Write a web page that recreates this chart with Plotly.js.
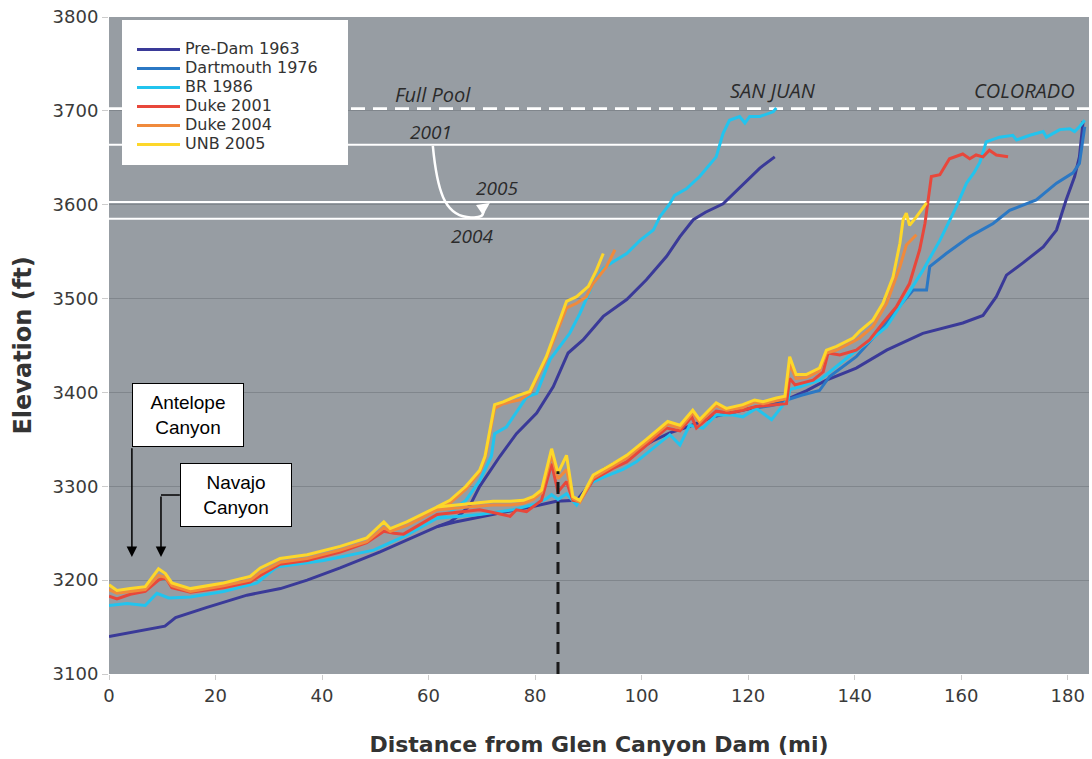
<!DOCTYPE html>
<html><head><meta charset="utf-8">
<script src="https://cdn.plot.ly/plotly-3.0.1.min.js"></script>
<style>html,body{margin:0;padding:0;background:#fff}#chart{width:1092px;height:759px}</style>
</head><body><div id="chart"></div>
<script>
// ---------- DATA (miles from Glen Canyon Dam, elevation ft) ----------
const seriesNames = ['Pre-Dam 1963','Dartmouth 1976','BR 1986','Duke 2001','Duke 2004','UNB 2005'];
const seriesColors = ['#3a3a98','#2b78c4','#22c4ee','#e8473b','#f08a3c','#fdd72a'];

// Pre-Dam 1963
const predamColX = [0,5,10.5,12.5,15,18.4,25.9,32.2,37.2,43.4,50.9,55.9,61.6,65,69.6,75,80,84,87.8,90,92.8,96,99,102,105.3,109,113.4,118,122,126,127.8,131,134.7,140.3,146,152.8,160.3,164.1,166.6,168.5,171.6,175.4,177.9,179.7,181.3,182.2,182.9];
const predamColY = [3140,3145,3151,3160,3165,3171,3184,3191,3200,3213,3230,3243,3257,3262,3267,3273,3279,3284,3285,3300,3318,3328,3338,3348,3357,3364,3374,3380,3385,3390,3394,3402,3413,3426,3445,3463,3474,3482,3502,3525,3538,3555,3573,3605,3630,3651,3689];
const predamSjX = [61.6,64,66,67.8,69.6,73.4,76.5,80.3,83.4,86.2,89,92.8,97.2,100.9,104.7,107.2,109.7,112,115.3,119.7,122.2,125];
const predamSjY = [3257,3262,3270,3280,3300,3332,3356,3378,3406,3442,3456,3481,3499,3520,3545,3566,3584,3592,3601,3625,3639,3651];

// Dartmouth 1976
const dartColX = [121,124.4,126.6,127.8,130,133.4,135.3,140.3,144.7,147.8,151,153.5,154.1,157.2,161.6,166,169.1,174.1,177.9,181,182.2,183.2];
const dartColY = [3383,3386,3389,3393,3397,3402,3417,3438,3466,3488,3509,3509,3534,3548,3566,3580,3594,3605,3623,3634,3644,3683];

// BR 1986
const br86ColX = [0,3.4,6.8,9,11.2,15.3,21.5,27.8,31.5,34,40.3,49.7,51.6,55.9,61.6,65,69.6,75.9,80,82.2,83.1,84.3,85.9,87.8,90.3,93,96.5,99,103.4,105.3,107.2,109,111.5,114,117.2,119,121.5,124.4,126.6,127.5,127.8,129.7,133.4,139.7,142.2,146,149.7,152.8,156,159.1,161,162.5,163.5,164.7,167.2,169.7,170.4,172.9,175.4,176,178.5,180.4,181.3,182.2,183.2];
const br86ColY = [3173,3175,3173,3186,3181,3182,3188,3197,3214,3216,3221,3232,3237,3248,3266,3268,3270,3275,3281,3287,3291,3286,3292,3280,3303,3310,3318,3326,3346,3355,3344,3365,3362,3376,3376,3374,3383,3371,3387,3392,3403,3406,3413,3442,3452,3470,3502,3530,3562,3598,3623,3635,3645,3667,3672,3674,3669,3674,3678,3672,3680,3681,3678,3683,3690];
const br86SjX = [61.6,64,67,69.6,71.8,72.4,74.6,78.4,80.3,82.8,86.5,88.4,90.9,92.8,94.6,97.2,99.7,102.2,103.4,105.3,106.2,108.4,110.9,114,115.3,116.5,118.4,119.4,120.3,122.2,124.7,125.3];
const br86SjY = [3266,3272,3285,3306,3332,3356,3363,3395,3399,3435,3463,3484,3516,3532,3539,3548,3562,3573,3587,3601,3610,3617,3630,3651,3676,3690,3694,3687,3694,3694,3699,3703];

// Duke 2001
const duke01ColX = [0,1.5,4,6.8,9.3,10.6,11.8,15.3,21.5,26.5,28.4,32.1,37.2,43.4,48.4,51.6,53.5,55.3,61.6,65,69.6,73,75.3,76.5,78.4,81.2,83.1,84.3,85.9,87.1,88.4,90.9,94.6,97.2,100.9,104.7,107.2,109.4,110.3,114,116.5,119,121.5,125.3,127.2,127.8,128.8,132.2,134.1,135,137.2,140.3,142.8,145.3,147.8,150.3,152.2,153.2,153.8,154.4,156,157.8,160.3,161.6,162.8,164.1,165.3,166.6,168.8];
const duke01ColY = [3183,3180,3185,3188,3200,3203,3192,3187,3192,3198,3205,3217,3221,3230,3240,3252,3250,3249,3270,3272,3275,3271,3268,3275,3273,3285,3324,3294,3305,3285,3284,3307,3319,3326,3344,3362,3359,3374,3362,3380,3378,3381,3385,3387,3388,3415,3408,3413,3422,3442,3440,3445,3456,3474,3491,3516,3552,3580,3605,3630,3632,3649,3654,3649,3653,3651,3658,3653,3651];

// Duke 2004
const duke04ColX = [0,1.5,4,6.8,9.3,10.6,11.8,15.3,21.5,26.5,28.4,32.1,37.2,43.4,48.4,51.6,52.8,55.9,61.6,65,69.6,72.1,75.3,77.8,79.6,81.2,83.1,84.3,85.9,87.1,88.4,90.9,94.6,97.2,100.9,104.9,107.2,109.6,110.9,114,115.9,119,121.2,122.8,125.3,126.9,127.8,129,130.9,133.4,134.7,136.6,139.7,140.9,143.4,146,148.5,149.7,151.6];
const duke04ColY = [3190,3186,3188,3190,3205,3203,3194,3188,3194,3200,3208,3219,3223,3232,3241,3256,3252,3258,3275,3277,3279,3280,3280,3282,3286,3293,3333,3308,3318,3287,3283,3309,3321,3330,3347,3366,3362,3378,3368,3386,3381,3384,3390,3388,3391,3393,3430,3415,3416,3423,3442,3445,3454,3458,3470,3495,3534,3557,3568];
const duke04SjX = [61.6,64,67,69.6,70.6,72.4,74,77.1,79,82.1,85.9,87.8,89.6,90.9,93.4,95];
const duke04SjY = [3275,3282,3297,3315,3330,3383,3388,3392,3399,3436,3490,3495,3502,3516,3534,3552];

// UNB 2005
const unb05ColX = [0,1.5,4,6.8,9.3,10.6,11.8,15.3,21.5,26.5,28.4,32.1,37.2,43.4,48.4,51.6,52.8,55.9,61.6,65,69.6,72.1,75.3,77.8,79.6,81.2,83.1,84.3,85.9,87.1,88.4,90.9,94.6,97.2,100.9,104.9,107.2,109.6,110.9,114,115.9,119,121.2,122.8,125.3,126.9,127.8,129,130.9,133.4,134.7,136.6,139.7,140.9,143.4,145.3,147.2,148.5,149.1,149.7,150.3,151.6,153.5];
const unb05ColY = [3195,3189,3191,3193,3212,3207,3197,3191,3197,3204,3213,3223,3227,3236,3245,3262,3255,3262,3278,3280,3282,3284,3284,3285,3289,3296,3340,3314,3333,3289,3285,3312,3324,3333,3350,3369,3365,3381,3371,3389,3383,3387,3392,3390,3394,3396,3438,3419,3419,3426,3445,3449,3458,3465,3477,3495,3523,3559,3584,3591,3578,3587,3602];
const unb05SjX = [61.6,64,67,69.6,70.6,72.4,74,76.5,79,82.1,85.9,87.8,90,91.5,92.8];
const unb05SjY = [3278,3285,3300,3317,3332,3387,3390,3396,3401,3438,3497,3502,3513,3530,3548];

// Reservoir levels (ft)
const fullPool = 3702;
const poolLevels = {'2001': 3664, '2005': 3603, '2004': 3585};
const sanJuanConfluenceMile = 84.3;
const sanJuanConfluenceTop = 3316;

const xTicks = [0,20,40,60,80,100,120,140,160,180];
const yTicks = [3100,3200,3300,3400,3500,3600,3700,3800];

// ---------- TRACES ----------
const colSets = [[predamColX,predamColY],[dartColX,dartColY],[br86ColX,br86ColY],[duke01ColX,duke01ColY],[duke04ColX,duke04ColY],[unb05ColX,unb05ColY]];
const sjSets = [[predamSjX,predamSjY],null,[br86SjX,br86SjY],null,[duke04SjX,duke04SjY],[unb05SjX,unb05SjY]];
const traces = [];
seriesNames.forEach((n,i)=>{
  traces.push({type:'scatter',mode:'lines',x:colSets[i][0],y:colSets[i][1],
    name:'<span style="font-size:16px">'+n+'</span>',legendgroup:n,
    line:{color:seriesColors[i],width:3},hoverinfo:'skip'});
  if(sjSets[i]) traces.push({type:'scatter',mode:'lines',x:sjSets[i][0],y:sjSets[i][1],
    name:n,legendgroup:n,showlegend:false,line:{color:seriesColors[i],width:3},hoverinfo:'skip'});
});

const txtFont = {family:'Open Sans, Noto Sans, sans-serif', size:20, color:'#2b2b2b'};
const yrFont = {family:'Open Sans, Noto Sans, sans-serif', size:19, color:'#2b2b2b'};
const boxFont = {family:'Liberation Sans, Arial, sans-serif', size:19, color:'#000'};

const shapes = [
  // legend white box
  {type:'rect',xref:'paper',yref:'paper',x0:(122-109)/980,x1:(348-109)/980,y0:1-(165-17)/657,y1:1-(20-17)/657,fillcolor:'#fff',line:{width:0},layer:'above'},
  {type:'line',xref:'paper',yref:'y',x0:0,x1:1,y0:fullPool,y1:fullPool,line:{color:'#fff',width:3.5,dash:'14px,8px'},layer:'between'},
  {type:'line',xref:'paper',yref:'y',x0:0,x1:1,y0:poolLevels['2001'],y1:poolLevels['2001'],line:{color:'#fff',width:2},layer:'between'},
  {type:'line',xref:'paper',yref:'y',x0:0,x1:1,y0:poolLevels['2005'],y1:poolLevels['2005'],line:{color:'#fff',width:2},layer:'between'},
  {type:'line',xref:'paper',yref:'y',x0:0,x1:1,y0:poolLevels['2004'],y1:poolLevels['2004'],line:{color:'#fff',width:2},layer:'between'},
  {type:'line',xref:'x',yref:'y',x0:sanJuanConfluenceMile,x1:sanJuanConfluenceMile,y0:3100,y1:sanJuanConfluenceTop,line:{color:'#1a1a1a',width:3,dash:'12px,8px'},layer:'above'},
  {type:'path',xref:'x',yref:'y',path:'M60.8,3662.6 C61.6,3615 63,3590 67.2,3587 S69.8,3594 70.6,3597',line:{color:'#fff',width:2.5},layer:'above'},
  {type:'line',xref:'x',yref:'y',x0:9.76,x1:13.3,y0:3290.7,y1:3290.7,line:{color:'#000',width:1.5},layer:'above'}
];

const annotations = [
  {x:60.8,y:3717,xref:'x',yref:'y',text:'<i>Full Pool</i>',showarrow:false,font:txtFont},
  {x:60.5,y:3678,xref:'x',yref:'y',text:'<i>2001</i>',showarrow:false,font:yrFont},
  {x:72.9,y:3617.5,xref:'x',yref:'y',text:'<i>2005</i>',showarrow:false,font:yrFont},
  {x:68.2,y:3566.7,xref:'x',yref:'y',text:'<i>2004</i>',showarrow:false,font:yrFont},
  {x:124.6,y:3722,xref:'x',yref:'y',text:'<i>SAN JUAN</i>',showarrow:false,font:txtFont},
  {x:171.9,y:3722,xref:'x',yref:'y',text:'<i>COLORADO</i>',showarrow:false,font:txtFont},
  {x:14.8,y:3376,xref:'x',yref:'y',text:'Antelope<br>Canyon',showarrow:false,font:boxFont,align:'center',
    bgcolor:'#fff',bordercolor:'#000',borderwidth:1,borderpad:0,width:110,height:62},
  {x:23.8,y:3290.7,xref:'x',yref:'y',text:'Navajo<br>Canyon',showarrow:false,font:boxFont,align:'center',
    bgcolor:'#fff',bordercolor:'#000',borderwidth:1,borderpad:0,width:110,height:62},
  {x:4.3,y:3224.7,ax:4.3,ay:3342,xref:'x',yref:'y',axref:'x',ayref:'y',text:'',showarrow:true,arrowhead:2,arrowsize:1.4,arrowwidth:1.5,arrowcolor:'#000'},
  {x:9.76,y:3224.7,ax:9.76,ay:3290.7,xref:'x',yref:'y',axref:'x',ayref:'y',text:'',showarrow:true,arrowhead:2,arrowsize:1.4,arrowwidth:1.5,arrowcolor:'#000'},
  {x:71.5,y:3601.8,ax:69.6,ay:3594.4,xref:'x',yref:'y',axref:'x',ayref:'y',text:'',showarrow:true,arrowhead:2,arrowsize:1,arrowwidth:2.5,arrowcolor:'#fff'}
];

const layout = {
  width:1092,height:759,
  margin:{l:109,r:3,t:17,b:85},
  paper_bgcolor:'#ffffff',plot_bgcolor:'#979da3',
  font:{family:'DejaVu Sans, Verdana, sans-serif',color:'#333'},
  showlegend:true,
  legend:{x:(132-109)/980,y:1-(35-17)/657,xanchor:'left',yanchor:'top',bgcolor:'rgba(0,0,0,0)',borderwidth:0,
    font:{family:'DejaVu Sans, Verdana, sans-serif',size:12,color:'#333'},itemwidth:43,tracegroupgap:0},
  xaxis:{range:[0,184],tickvals:xTicks,ticktext:xTicks.map(String),ticks:'outside',ticklen:5,tickcolor:'#cccccc',
    showgrid:false,zeroline:false,showline:false,fixedrange:true,
    tickfont:{size:18,color:'#3a3a3a'},
    title:{text:'<b>Distance from Glen Canyon Dam (mi)</b>',font:{size:22,color:'#333'},standoff:32}},
  yaxis:{range:[3100,3800],tickvals:yTicks,ticktext:yTicks.map(String),ticks:'outside',ticklen:6,tickcolor:'#cccccc',
    showgrid:true,gridcolor:'#80868c',gridwidth:1,zeroline:false,showline:false,fixedrange:true,
    tickfont:{size:18,color:'#3a3a3a'},
    title:{text:'<b>Elevation (ft)</b>',font:{size:24,color:'#333'},standoff:14}},
  shapes:shapes,annotations:annotations
};
Plotly.newPlot('chart',traces,layout,{displayModeBar:false,staticPlot:true});
</script></body></html>
